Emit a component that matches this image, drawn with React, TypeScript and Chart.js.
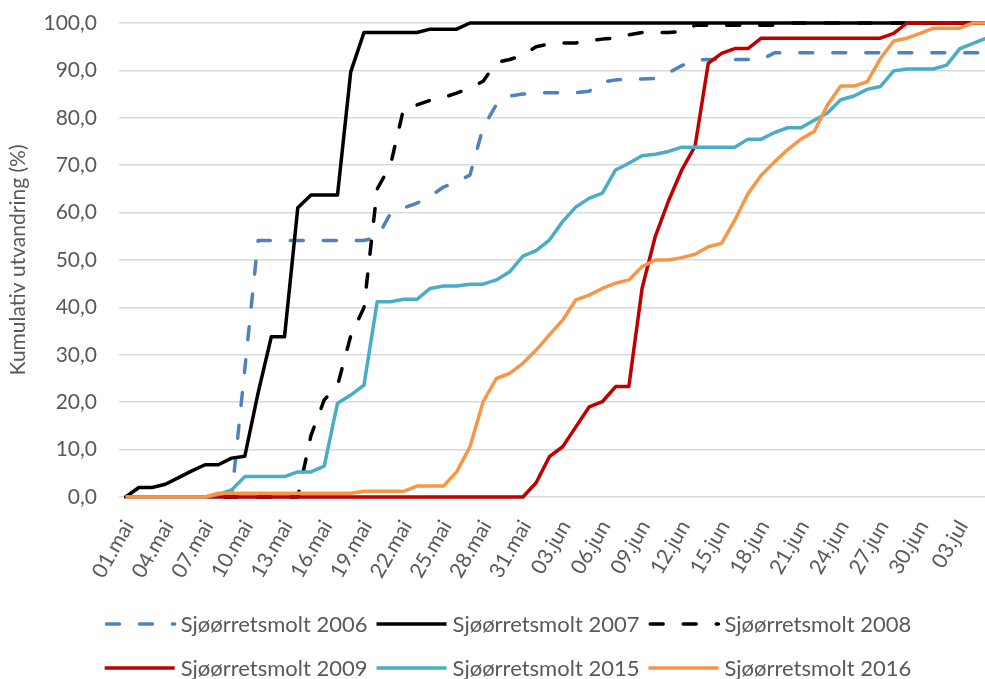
import React, { useEffect, useRef } from 'react';
import { Chart, registerables } from 'chart.js';

Chart.register(...registerables);

const dateLabels = [
  '01.mai','02.mai','03.mai','04.mai','05.mai','06.mai','07.mai','08.mai','09.mai','10.mai',
  '11.mai','12.mai','13.mai','14.mai','15.mai','16.mai','17.mai','18.mai','19.mai','20.mai',
  '21.mai','22.mai','23.mai','24.mai','25.mai','26.mai','27.mai','28.mai','29.mai','30.mai',
  '31.mai','01.jun','02.jun','03.jun','04.jun','05.jun','06.jun','07.jun','08.jun','09.jun',
  '10.jun','11.jun','12.jun','13.jun','14.jun','15.jun','16.jun','17.jun','18.jun','19.jun',
  '20.jun','21.jun','22.jun','23.jun','24.jun','25.jun','26.jun','27.jun','28.jun','29.jun',
  '30.jun','01.jul','02.jul','03.jul','04.jul','05.jul',
];

const smolt2006 = [
  0, 0, 0, 0, 0, 0, 0, 0, 0, 27,
  54.1, 54.1, 54.1, 54.1, 54.1, 54.1, 54.1, 54.1, 54.1, 54.8,
  59.8, 61.0, 62.0, 63.4, 65.4, 66.5, 67.9, 78.0, 82.8, 84.6,
  85.0, 85.3, 85.3, 85.3, 85.3, 85.6, 87.5, 88.0, 88.2, 88.2,
  88.3, 89.5, 91.0, 92.2, 92.3, 92.3, 92.3, 92.3, 92.3, 93.7,
  93.7, 93.7, 93.7, 93.7, 93.7, 93.7, 93.7, 93.7, 93.7, 93.7,
  93.7, 93.7, 93.7, 93.7, 93.7, 93.7,
];

const smolt2007 = [
  0, 2.0, 2.0, 2.7, 4.1, 5.5, 6.8, 6.8, 8.2, 8.6,
  21.9, 33.8, 33.8, 61.0, 63.7, 63.7, 63.7, 89.7, 98.0, 98.0,
  98.0, 98.0, 98.0, 98.7, 98.7, 98.7, 100, 100, 100, 100,
  100, 100, 100, 100, 100, 100, 100, 100, 100, 100,
  100, 100, 100, 100, 100, 100, 100, 100, 100, 100,
  100, 100, 100, 100, 100, 100, 100, 100, 100, 100,
  100, 100, 100, 100, 100, 100,
];

const smolt2008 = [
  0, 0, 0, 0, 0, 0, 0, 0, 0, 0,
  0, 0, 0, 0, 13, 20.5, 23.5, 34, 40, 65,
  70, 82, 82.7, 83.7, 84.3, 85.2, 86.3, 87.7, 91.7, 92.3,
  93.2, 95.0, 95.6, 95.8, 95.8, 96.3, 96.6, 96.8, 97.5, 98.0,
  98.0, 98.0, 98.2, 99.5, 99.5, 99.5, 99.5, 99.5, 99.5, 99.5,
  100, 100, 100, 100, 100, 100, 100, 100, 100, 100,
  100, 100, 100, 100, 100, 100,
];

const smolt2009 = [
  0, 0, 0, 0, 0, 0, 0, 0, 0, 0,
  0, 0, 0, 0, 0, 0, 0, 0, 0, 0,
  0, 0, 0, 0, 0, 0, 0, 0, 0, 0,
  0, 3.0, 8.5, 10.6, 14.8, 19.0, 20.1, 23.3, 23.3, 44.0,
  55.0, 62.5, 69.0, 74.0, 91.5, 93.6, 94.6, 94.6, 96.8, 96.8,
  96.8, 96.8, 96.8, 96.8, 96.8, 96.8, 96.8, 96.8, 97.8, 100,
  100, 100, 100, 100, 100, 100,
];

const smolt2015 = [
  0, 0, 0, 0, 0, 0, 0, 0.5, 1.5, 4.3,
  4.3, 4.3, 4.3, 5.3, 5.3, 6.5, 19.8, 21.5, 23.6, 41.2,
  41.2, 41.7, 41.7, 44.0, 44.5, 44.5, 44.9, 44.9, 45.8, 47.5,
  50.8, 52.0, 54.2, 58.1, 61.2, 63.0, 64.1, 69.0, 70.4, 72.0,
  72.3, 72.9, 73.8, 73.8, 73.8, 73.8, 73.8, 75.5, 75.5, 76.9,
  77.9, 77.9, 79.5, 81.0, 83.8, 84.6, 86.0, 86.6, 89.9, 90.3,
  90.3, 90.3, 91.1, 94.6, 95.7, 96.8,
];

const smolt2016 = [
  0, 0, 0, 0, 0, 0, 0, 0.8, 0.8, 0.8,
  0.8, 0.8, 0.8, 0.8, 0.8, 0.8, 0.8, 0.8, 1.2, 1.2,
  1.2, 1.2, 2.3, 2.3, 2.3, 5.3, 10.6, 20.1, 25.0, 26.1,
  28.2, 31.0, 34.2, 37.3, 41.6, 42.6, 44.0, 45.1, 45.8, 48.6,
  50.0, 50.0, 50.5, 51.2, 52.8, 53.5, 58.4, 64.0, 67.9, 70.7,
  73.3, 75.5, 77.1, 82.7, 86.7, 86.7, 87.6, 92.5, 96.2, 96.8,
  97.8, 98.9, 98.9, 98.9, 100, 100,
];

const seriesNames = [
  'Sjøørretsmolt 2006',
  'Sjøørretsmolt 2007',
  'Sjøørretsmolt 2008',
  'Sjøørretsmolt 2009',
  'Sjøørretsmolt 2015',
  'Sjøørretsmolt 2016',
];

const yAxisTitle = 'Kumulativ utvandring (%)';
const yMin = 0;
const yMax = 100;
const yStep = 10;
const labelEvery = 3;

const FONT = 'Lato';
const FONT_SIZE = 21;
const LEGEND_FONT_SIZE = 22;
const TEXT_COLOR = '#595959';
const GRID_COLOR = '#d9d9d9';
const DASH = [13, 20];

const excelLegend = {
  id: 'excelLegend',
  afterDraw(chart: any) {
    const ctx = chart.ctx as CanvasRenderingContext2D;
    const ds = chart.data.datasets as any[];
    const perRow = 3;
    const lineLen = 70;
    const gapText = 6;
    const gapItem = 9;
    const rowsY = [624, 668];
    const centerX = 508;
    ctx.save();
    ctx.font = `${LEGEND_FONT_SIZE}px ${FONT}`;
    ctx.textBaseline = 'middle';
    ctx.textAlign = 'left';
    for (let r = 0; r < rowsY.length; r++) {
      const items = ds.slice(r * perRow, r * perRow + perRow);
      const widths = items.map((d) => lineLen + gapText + ctx.measureText(d.label).width);
      const total = widths.reduce((a, b) => a + b, 0) + gapItem * (items.length - 1);
      let x = centerX - total / 2;
      const y = rowsY[r];
      items.forEach((d, i) => {
        const dashed = Array.isArray(d.borderDash) && d.borderDash.length > 0;
        ctx.beginPath();
        ctx.strokeStyle = d.borderColor;
        ctx.lineWidth = d.borderWidth;
        ctx.setLineDash(dashed ? d.borderDash : []);
        ctx.lineCap = dashed ? 'round' : 'butt';
        ctx.moveTo(x + (dashed ? d.borderWidth / 2 : 0), y);
        ctx.lineTo(x + lineLen, y);
        ctx.stroke();
        ctx.setLineDash([]);
        ctx.fillStyle = TEXT_COLOR;
        ctx.fillText(d.label, x + lineLen + gapText, y + 1);
        x += widths[i] + gapItem;
      });
    }
    ctx.restore();
  },
};

export default function App() {
  const ref = useRef<HTMLCanvasElement>(null);

  useEffect(() => {
    if (!ref.current) return;
    Chart.defaults.font.family = FONT;
    const mk = (i: number, data: number[], color: string, dashed: boolean, order: number) => ({
      label: seriesNames[i],
      data,
      borderColor: color,
      backgroundColor: color,
      borderWidth: 3.5,
      borderDash: dashed ? DASH : [],
      borderCapStyle: dashed ? 'round' : 'butt',
      borderJoinStyle: 'round',
      pointRadius: 0,
      pointHoverRadius: 0,
      tension: 0,
      fill: false,
      order,
      clip: false,
    });
    const chart = new Chart(ref.current, {
      type: 'line',
      data: {
        labels: dateLabels,
        datasets: [
          mk(0, smolt2006, '#4F81BD', true, 6),
          mk(1, smolt2007, '#000000', false, 5),
          mk(2, smolt2008, '#000000', true, 4),
          mk(3, smolt2009, '#C00000', false, 3),
          mk(4, smolt2015, '#4BACC6', false, 2),
          mk(5, smolt2016, '#F79646', false, 1),
        ] as any,
      },
      options: {
        responsive: false,
        animation: false,
        events: [],
        layout: { padding: { left: 0, right: 7, top: 23, bottom: 77 } },
        plugins: {
          legend: { display: false },
          tooltip: { enabled: false },
          title: { display: false },
        },
        scales: {
          x: {
            type: 'category',
            offset: true,
            grid: { display: false, drawTicks: false },
            border: { display: false },
            ticks: {
              autoSkip: false,
              minRotation: 60,
              maxRotation: 60,
              padding: 19,
              labelOffset: 3,
              color: TEXT_COLOR,
              font: { family: FONT, size: FONT_SIZE },
              callback: (_v: any, i: number) => (i % labelEvery === 0 ? dateLabels[i] : ''),
            },
            afterFit: (s: any) => {
              s.height = 105;
              s.paddingLeft = 0;
              s.paddingRight = 0;
            },
          },
          y: {
            min: yMin,
            max: yMax,
            grid: { color: GRID_COLOR, lineWidth: 1.5, drawTicks: false },
            border: { display: false },
            ticks: {
              stepSize: yStep,
              padding: 22,
              color: TEXT_COLOR,
              font: { family: FONT, size: FONT_SIZE },
              callback: (v: any) => Number(v).toFixed(1).replace('.', ','),
            },
            title: {
              display: true,
              text: yAxisTitle,
              color: TEXT_COLOR,
              font: { family: FONT, size: FONT_SIZE },
              padding: { top: 6, bottom: 0 },
            },
            afterFit: (s: any) => {
              s.width = 119;
              s.paddingTop = 0;
              s.paddingBottom = 0;
            },
          },
        },
      } as any,
      plugins: [excelLegend],
    });
    return () => chart.destroy();
  }, []);

  return (
    <div
      style={{
        position: 'absolute',
        left: 0,
        top: 0,
        width: 985,
        height: 679,
        overflow: 'hidden',
        background: '#ffffff',
      }}
    >
      <canvas ref={ref} width={1000} height={679} style={{ display: 'block' }} />
    </div>
  );
}
